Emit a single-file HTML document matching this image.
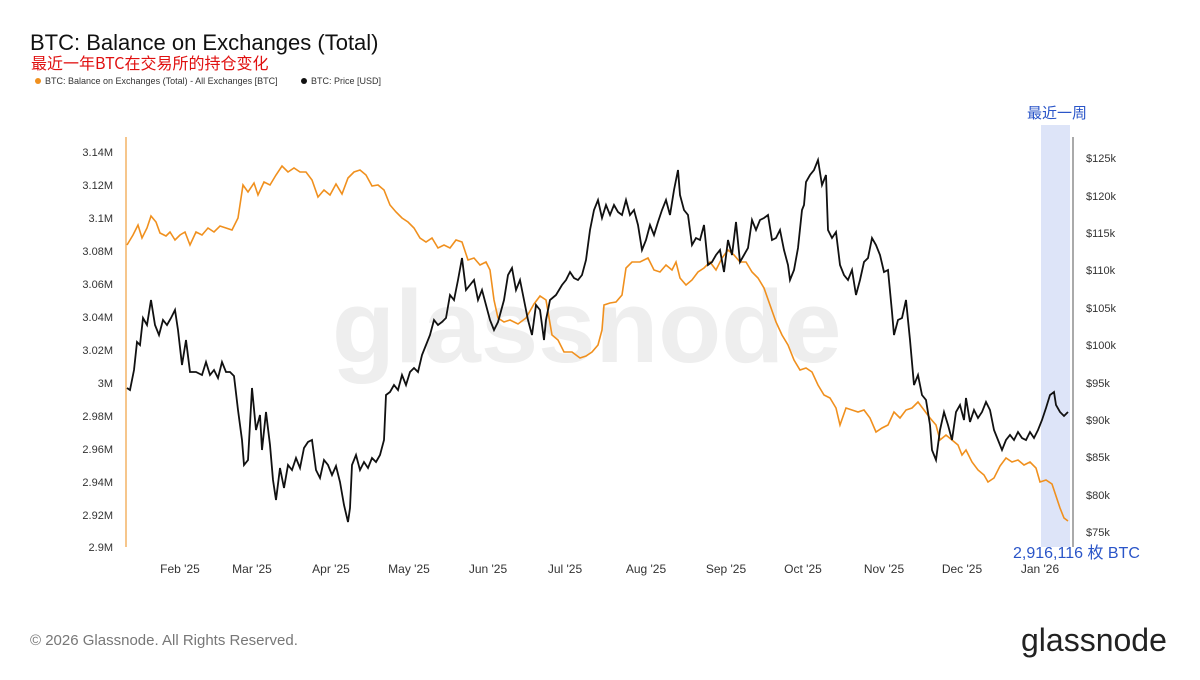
<!DOCTYPE html>
<html><head><meta charset="utf-8"><style>
body{margin:0;width:1200px;height:675px;background:#fff;overflow:hidden;font-family:"Liberation Sans","Noto Sans CJK SC",sans-serif;}
</style></head><body>
<svg width="1200" height="675" xmlns="http://www.w3.org/2000/svg" font-family="Liberation Sans, Noto Sans CJK SC, sans-serif">
<text x="30" y="50" font-size="22" fill="#111">BTC: Balance on Exchanges (Total)</text>
<text x="31" y="69" font-size="16" fill="#e01010" font-family="Noto Sans CJK SC, sans-serif">最近一年BTC在交易所的持仓变化</text>
<circle cx="38" cy="81" r="3" fill="#f0901e"/>
<text x="45" y="84" font-size="9" fill="#333">BTC: Balance on Exchanges (Total) - All Exchanges [BTC]</text>
<circle cx="304" cy="81" r="3" fill="#111"/>
<text x="311" y="84" font-size="9" fill="#333">BTC: Price [USD]</text>
<rect x="1041" y="125" width="29" height="422" fill="#dde4f8"/>
<text x="1027" y="118" font-size="15" fill="#2a55c8" font-family="Noto Sans CJK SC, sans-serif">最近一周</text>
<text x="332" y="362" font-size="103" fill="#eeeeee" font-weight="bold">glassnode</text>
<line x1="126" y1="137" x2="126" y2="547" stroke="#f0a040" stroke-width="1.2"/>
<line x1="1073" y1="137" x2="1073" y2="547" stroke="#555" stroke-width="1"/>
<g font-size="11" fill="#333" text-anchor="end">
<text x="113" y="156">3.14M</text><text x="113" y="189">3.12M</text><text x="113" y="222">3.1M</text><text x="113" y="255">3.08M</text><text x="113" y="288">3.06M</text><text x="113" y="321">3.04M</text><text x="113" y="354">3.02M</text><text x="113" y="387">3M</text><text x="113" y="420">2.98M</text><text x="113" y="453">2.96M</text><text x="113" y="486">2.94M</text><text x="113" y="519">2.92M</text><text x="113" y="551">2.9M</text>
</g>
<g font-size="11" fill="#333">
<text x="1086" y="162">$125k</text><text x="1086" y="200">$120k</text><text x="1086" y="237">$115k</text><text x="1086" y="274">$110k</text><text x="1086" y="312">$105k</text><text x="1086" y="349">$100k</text><text x="1086" y="387">$95k</text><text x="1086" y="424">$90k</text><text x="1086" y="461">$85k</text><text x="1086" y="499">$80k</text><text x="1086" y="536">$75k</text>
</g>
<g font-size="12" fill="#333" text-anchor="middle">
<text x="180" y="573">Feb '25</text><text x="252" y="573">Mar '25</text><text x="331" y="573">Apr '25</text><text x="409" y="573">May '25</text><text x="488" y="573">Jun '25</text><text x="565" y="573">Jul '25</text><text x="646" y="573">Aug '25</text><text x="726" y="573">Sep '25</text><text x="803" y="573">Oct '25</text><text x="884" y="573">Nov '25</text><text x="962" y="573">Dec '25</text><text x="1040" y="573">Jan '26</text>
</g>
<polyline fill="none" stroke="#f0901e" stroke-width="1.6" points="127,245 133,235 138,225 142,238 147,228 151,216 156,222 160,233 166,236 170,232 175,240 180,235 185,232 190,245 196,232 202,235 208,228 214,232 220,226 226,228 232,230 238,218 243,185 248,192 254,183 258,195 264,182 270,185 276,175 282,166 288,172 294,168 300,172 306,172 312,180 318,197 324,190 330,195 336,184 342,194 348,178 354,172 360,170 366,175 372,186 378,185 384,190 390,205 396,212 402,218 408,222 414,228 420,238 426,242 432,238 438,248 444,245 450,248 456,240 462,242 468,260 474,258 480,265 486,262 490,270 494,300 498,318 504,322 510,320 518,324 526,318 534,304 540,296 546,300 552,335 558,340 564,352 572,352 580,358 586,356 592,352 598,345 602,330 604,305 610,303 616,302 622,295 626,268 632,262 640,262 648,258 654,270 660,272 666,265 672,270 676,262 680,278 686,285 692,280 698,272 704,268 710,262 716,270 722,258 728,250 734,255 740,262 746,262 752,272 758,278 764,288 770,305 776,322 782,335 788,345 794,360 800,370 806,368 812,372 818,385 824,395 830,398 836,408 840,425 846,408 852,410 858,412 864,410 870,418 876,432 882,428 888,425 894,412 900,418 906,410 912,408 918,402 924,410 930,418 936,425 940,440 946,435 952,440 958,445 962,455 966,450 972,462 978,470 984,475 988,482 994,478 1000,466 1006,458 1012,462 1018,460 1024,465 1030,462 1036,468 1040,482 1046,480 1052,484 1056,496 1060,508 1064,518 1068,521"/>
<polyline fill="none" stroke="#111" stroke-width="1.8" points="127,388 130,390 134,370 137,342 140,345 143,318 147,325 151,300 155,325 159,335 163,320 167,325 171,318 175,310 178,330 182,365 186,340 190,372 196,372 202,375 206,362 210,375 214,370 218,378 222,362 226,372 230,372 234,376 238,410 242,440 244,465 248,460 252,388 256,430 260,415 262,450 266,412 270,445 273,480 276,500 280,468 284,488 288,465 292,470 296,458 300,468 304,448 308,442 312,440 316,470 320,478 324,460 328,465 332,475 336,466 340,482 344,505 348,522 350,508 352,465 356,455 360,470 364,462 368,468 372,458 376,462 380,455 384,440 386,395 390,392 394,385 398,390 402,375 406,385 410,372 414,368 418,372 422,355 426,345 430,335 434,320 438,325 442,322 446,318 450,295 454,300 458,280 462,258 466,290 470,285 474,280 478,300 482,290 486,305 490,320 494,330 498,322 504,300 508,275 512,268 516,290 520,280 524,300 528,320 532,335 536,305 540,310 544,340 546,320 550,300 556,295 562,285 566,280 570,272 574,278 578,280 582,275 586,260 590,230 594,210 598,200 602,218 606,205 610,215 614,205 618,212 622,215 626,200 630,215 634,210 638,225 642,250 646,240 650,225 654,235 658,222 662,210 666,200 670,215 674,190 678,170 680,195 684,210 688,215 692,245 696,238 700,240 704,225 708,265 712,262 716,255 720,250 724,272 728,240 732,255 736,222 740,262 744,255 748,248 752,220 756,230 760,220 764,218 768,215 772,240 776,238 780,230 784,250 788,265 790,280 794,270 798,248 802,210 804,205 806,182 810,175 814,170 818,160 822,185 826,175 828,230 832,238 836,232 840,265 844,275 848,280 852,270 856,295 860,280 864,262 868,258 872,238 876,245 880,255 884,272 888,270 892,312 894,335 898,320 902,318 906,300 910,340 914,385 918,375 922,395 926,400 930,425 932,450 936,460 940,430 944,412 948,425 952,440 956,412 960,405 964,420 966,398 970,422 974,410 978,418 982,412 986,402 990,410 994,430 998,440 1002,450 1006,440 1010,435 1014,440 1018,432 1022,438 1026,440 1030,432 1034,438 1038,430 1042,420 1046,408 1050,395 1054,392 1056,405 1060,412 1064,416 1068,412"/>
<text x="1013" y="558" font-size="16" fill="#2a55c8" font-family="Liberation Sans, Noto Sans CJK SC, sans-serif">2,916,116 枚 BTC</text>
<text x="30" y="645" font-size="15" fill="#777">© 2026 Glassnode. All Rights Reserved.</text>
<text x="1021" y="651" font-size="32" fill="#222">glassnode</text>
</svg>
</body></html>
